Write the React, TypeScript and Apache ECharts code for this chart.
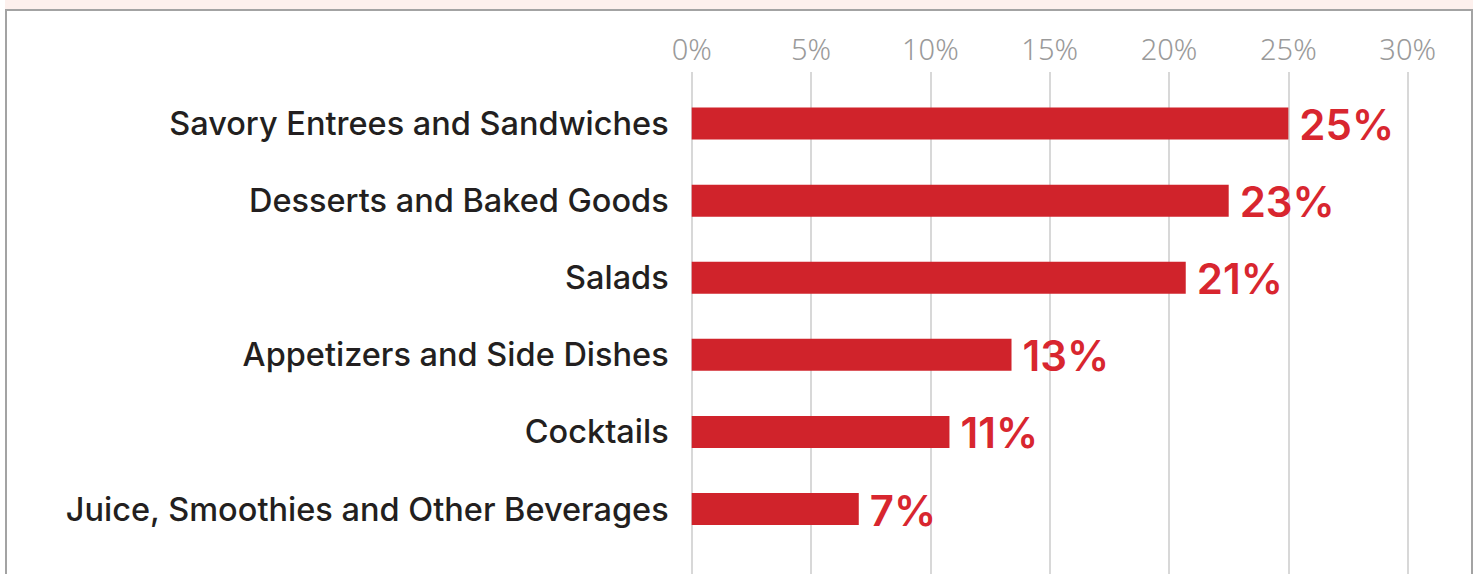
import React, { useEffect, useRef } from "react";
import * as echarts from "echarts";

const categories = [
  "Savory Entrees and Sandwiches",
  "Desserts and Baked Goods",
  "Salads",
  "Appetizers and Side Dishes",
  "Cocktails",
  "Juice, Smoothies and Other Beverages",
];
const values = [25, 22.5, 20.7, 13.4, 10.8, 7];
const valueLabels = ["25%", "23%", "21%", "13%", "11%", "7%"];
const tickMax = 30;
const tickStep = 5;

export default function App() {
  const ref = useRef<HTMLDivElement>(null);
  useEffect(() => {
    if (!ref.current) return;
    const chart = echarts.init(ref.current, null, { renderer: "svg" });
    const font = "Inter, 'Noto Sans', sans-serif";
    chart.setOption({
      animation: false,
      grid: [
        { left: 691.7, right: 69.3, top: 72, bottom: -20, containLabel: false },
        { left: 691.7, right: 69.3, top: 85, bottom: 26.4, containLabel: false },
      ],
      xAxis: [
        {
          gridIndex: 0,
          type: "value",
          position: "top",
          min: 0,
          max: tickMax,
          interval: tickStep,
          axisLine: { show: false },
          axisTick: { show: false },
          axisLabel: {
            formatter: "{value}%",
            color: "#9a9a9a",
            fontFamily: "'Noto Sans', sans-serif",
            fontWeight: 300,
            fontSize: 29,
            margin: 9,
          },
          splitLine: { show: true, lineStyle: { color: "#cbcbcb", width: 1.5 } },
        },
        {
          gridIndex: 1,
          type: "value",
          min: 0,
          max: tickMax,
          show: false,
        },
      ],
      yAxis: [
        { gridIndex: 0, type: "value", show: false },
        {
          gridIndex: 1,
          type: "category",
          data: categories,
          inverse: true,
          axisLine: { show: false },
          axisTick: { show: false },
          splitLine: { show: false },
          axisLabel: {
            color: "#231f20",
            fontFamily: font,
            fontWeight: 500,
            fontSize: 32.5,
            margin: 23,
            padding: [0, 0, 3, 0],
          },
        },
      ],
      series: [
        {
          type: "bar",
          xAxisIndex: 1,
          yAxisIndex: 1,
          data: values,
          barWidth: 32,
          itemStyle: { color: "#d0232b" },
          label: {
            show: true,
            position: "right",
            distance: 11,
            formatter: (p: any) => valueLabels[p.dataIndex],
            color: "#d8262f",
            fontFamily: font,
            fontWeight: 600,
            fontSize: 42,
            offset: [0, 1],
          },
        },
      ],
    });
    return () => chart.dispose();
  }, []);
  return (
    <div style={{ position: "fixed", left: 0, top: 0, width: 1477, height: 574, background: "#fff", overflow: "hidden" }}>
      <div
        style={{
          position: "absolute",
          left: 5,
          top: 0,
          width: 1468,
          height: 9,
          background: "#fdf0ed",
        }}
      />
      <div
        style={{
          position: "absolute",
          left: 5,
          top: 9,
          width: 1464,
          height: 600,
          borderTop: "2px solid #a3a3a3",
          borderLeft: "2px solid #a3a3a3",
          borderRight: "2px solid #a3a3a3",
        }}
      />
      <div ref={ref} style={{ position: "absolute", left: 0, top: 0, width: 1477, height: 574 }} />
    </div>
  );
}
